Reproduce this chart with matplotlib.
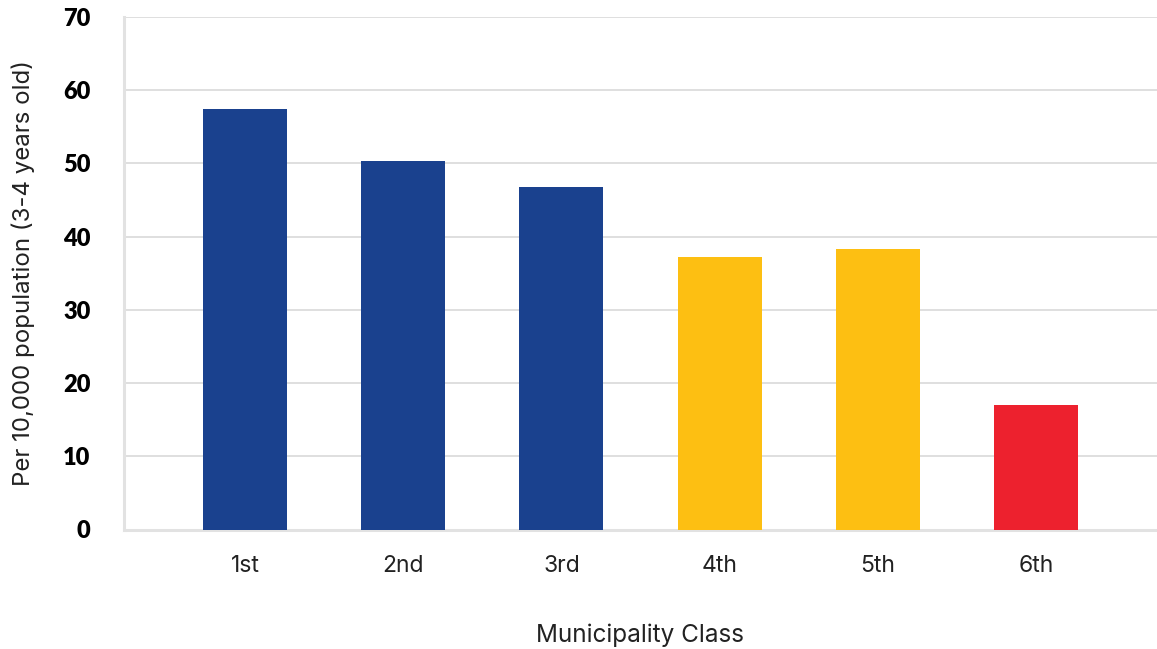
import matplotlib
matplotlib.use("Agg")
import matplotlib.pyplot as plt

# Rate per 10,000 children aged 3-4, by municipality income class
classes = ["1st", "2nd", "3rd", "4th", "5th", "6th"]
rates = [57.4, 50.3, 46.8, 37.2, 38.3, 17.0]
bar_colors = ["#1a418e", "#1a418e", "#1a418e", "#fdbf12", "#fdbf12", "#ed212e"]
y_ticks = [0, 10, 20, 30, 40, 50, 60, 70]

fig = plt.figure(figsize=(11.57, 6.49), dpi=100)
ax = fig.add_axes([124 / 1157, 1 - 529.5 / 649, 1 - 124 / 1157, (529.5 - 17) / 649])

x = list(range(len(classes)))
ax.bar(x, rates, width=0.53, color=bar_colors, zorder=3)

ax.set_xlim(-0.765, 5.765)
ax.set_ylim(0, 70)
ax.set_yticks(y_ticks)
ax.set_yticklabels([str(t) for t in y_ticks], fontfamily="Lato", fontweight="heavy", fontsize=17)
ax.set_xticks(x)
ax.set_xticklabels(classes, fontfamily="Inter", fontsize=16.5, color="#222222")

ax.yaxis.grid(True, color="#d9d9d9", linewidth=1.2, zorder=0)
ax.tick_params(axis="y", length=0, pad=24)
ax.tick_params(axis="x", length=0, pad=18)

for side in ("top", "right"):
    ax.spines[side].set_visible(False)
for side in ("left", "bottom"):
    ax.spines[side].set_color("#e2e2e2")
    ax.spines[side].set_linewidth(2.2)

ax.set_xlabel("Municipality Class", fontfamily="Inter", fontsize=17.5, color="#222222", labelpad=34)
ax.set_ylabel("Per 10,000 population (3-4 years old)", fontfamily="Inter", fontsize=17.3,
              color="#222222", labelpad=20)

fig.savefig("out.png", dpi=100)
